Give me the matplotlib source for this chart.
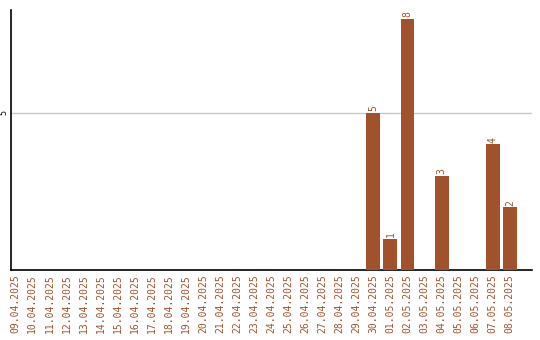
import matplotlib
matplotlib.use("Agg")
import matplotlib.pyplot as plt

dates = ["09.04.2025", "10.04.2025", "11.04.2025", "12.04.2025", "13.04.2025", "14.04.2025",
         "15.04.2025", "16.04.2025", "17.04.2025", "18.04.2025", "19.04.2025", "20.04.2025",
         "21.04.2025", "22.04.2025", "23.04.2025", "24.04.2025", "25.04.2025", "26.04.2025",
         "27.04.2025", "28.04.2025", "29.04.2025", "30.04.2025", "01.05.2025", "02.05.2025",
         "03.05.2025", "04.05.2025", "05.05.2025", "06.05.2025", "07.05.2025", "08.05.2025"]
values = [0, 0, 0, 0, 0, 0, 0, 0, 0, 0, 0, 0, 0, 0, 0, 0, 0, 0, 0, 0, 0,
          5, 1, 8, 0, 3, 0, 0, 4, 2]
yticks = [5]

color = "#A0522D"
fig = plt.figure(figsize=(5.4, 3.4), dpi=100)
ax = fig.add_axes([11/540, 70/340, 521/540, 260/340])
x = list(range(len(dates)))
ax.bar(x, values, width=0.82, color=color, zorder=3)
for xi, v in zip(x, values):
    if v > 0:
        ax.text(xi, v + 0.05, str(v), rotation=90, ha="center", va="bottom",
                color=color, fontsize=7, family="DejaVu Sans Mono")
ax.set_xlim(-0.25, 30.3)
ax.set_ylim(0, 8.28)
ax.set_yticks(yticks)
ax.set_yticklabels([str(t) for t in yticks], rotation=90, va="center", fontsize=6,
                   family="DejaVu Sans Mono")
ax.yaxis.grid(True, color="#c8c8c8", linewidth=1, zorder=0)
ax.set_xticks(x)
ax.set_xticklabels(dates, rotation=90, fontsize=7, color=color, family="DejaVu Sans Mono")
ax.tick_params(axis="both", length=0, pad=3)
ax.tick_params(axis="y", pad=2)
for s in ["top", "right"]:
    ax.spines[s].set_visible(False)
ax.spines["left"].set_linewidth(1.2)
ax.spines["bottom"].set_linewidth(1.2)
fig.savefig("out.png", dpi=100)
